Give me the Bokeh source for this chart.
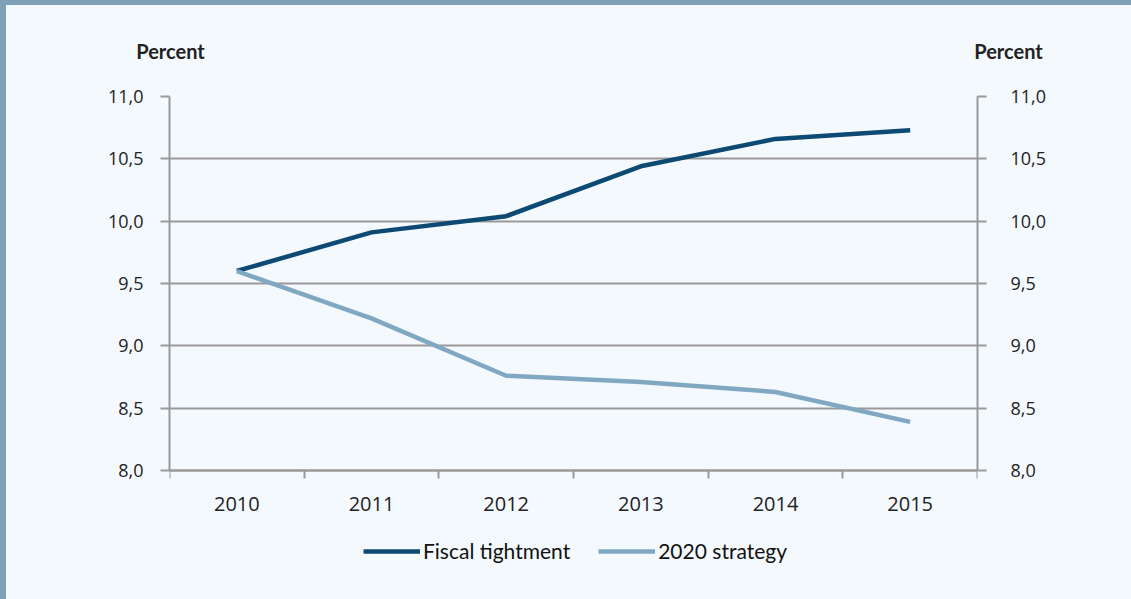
from bokeh.plotting import figure
from bokeh.models import (FixedTicker, LinearAxis, Range1d, CustomJSTickFormatter,
                          Legend, LegendItem)
from bokeh.core.properties import value
from bokeh.layouts import column
from bokeh.embed import file_html
from bokeh.resources import INLINE

years = [2010, 2011, 2012, 2013, 2014, 2015]
fiscal_tightment = [9.6, 9.91, 10.04, 10.44, 10.66, 10.73]
strategy_2020 = [9.6, 9.22, 8.76, 8.71, 8.63, 8.39]
y_ticks = [8.0, 8.5, 9.0, 9.5, 10.0, 10.5, 11.0]
series_names = ["Fiscal tightment", "2020 strategy"]
unit_labels = ["Percent", "Percent"]

BG = "#f4f9fe"
BORDER = "#7ea1b8"
DARK = "#0d4a73"
LIGHT = "#80a8c2"
GRID = "#999999"
TXT = "#222222"
FONT = "Open Sans"

W = 1125
HEADER_H = 80
PLOT_PX = 374                      # pixel height of the value area (8.0 .. 11.0)
EXTRA_PX = 110                     # room below the value area for year labels and legend
px_per_unit = PLOT_PX / (y_ticks[-1] - y_ticks[0])
y_start = y_ticks[0] - EXTRA_PX / px_per_unit

# header with the unit labels above the two value axes
hdr = figure(width=W, height=HEADER_H, x_range=Range1d(0, W), y_range=Range1d(0, HEADER_H),
             output_backend="svg", toolbar_location=None,
             background_fill_color=BG, border_fill_color=BG, outline_line_color=None,
             min_border=0, x_axis_location=None, y_axis_location=None)
hdr.frame_align = False
hdr.xgrid.visible = False
hdr.ygrid.visible = False
hdr.text(x=[164, 1002], y=[35, 35], text=unit_labels,
         text_align="center", text_baseline="middle",
         text_font=value("Lato"), text_font_style="bold", text_font_size="20px",
         text_color=TXT)

p = figure(frame_width=808, frame_height=PLOT_PX + EXTRA_PX,
           x_range=Range1d(years[0] - 0.5, years[-1] + 0.5),
           y_range=Range1d(y_start, y_ticks[-1]),
           output_backend="svg", toolbar_location=None,
           background_fill_color=BG, border_fill_color=BG,
           min_border_left=163, min_border_right=154,
           min_border_top=11, min_border_bottom=0,
           outline_line_color=None, y_axis_location=None, x_axis_location=None)
p.frame_align = False

fmt = CustomJSTickFormatter(code="return tick.toFixed(1).replace('.', ',');")

def style_y(ax, standoff):
    ax.ticker = FixedTicker(ticks=y_ticks)
    ax.bounds = (y_ticks[0], y_ticks[-1])
    ax.formatter = fmt
    ax.axis_line_color = GRID
    ax.axis_line_width = 2
    ax.major_tick_line_color = GRID
    ax.major_tick_line_width = 2
    ax.major_tick_out = 9
    ax.major_tick_in = 0
    ax.minor_tick_line_color = None
    ax.major_label_text_font = FONT
    ax.major_label_text_font_size = "18px"
    ax.major_label_text_color = TXT
    ax.major_label_standoff = standoff

yl = LinearAxis()
style_y(yl, 17)
p.add_layout(yl, "left")
yr = LinearAxis()
style_y(yr, 24)
p.add_layout(yr, "right")

xa = LinearAxis(ticker=FixedTicker(ticks=years,
                                   minor_ticks=[y - 0.5 for y in years] + [years[-1] + 0.5]),
                fixed_location=y_ticks[0])
xa.formatter = CustomJSTickFormatter(code="return String(tick);")
xa.axis_line_color = GRID
xa.axis_line_width = 2
xa.major_tick_line_color = None
xa.major_tick_out = 8
xa.minor_tick_line_color = GRID
xa.minor_tick_line_width = 2
xa.minor_tick_out = 8
xa.minor_tick_in = 0
xa.major_label_text_font = FONT
xa.major_label_text_font_size = "20px"
xa.major_label_text_color = TXT
xa.major_label_standoff = 18
p.add_layout(xa, "below")

p.ygrid.ticker = FixedTicker(ticks=y_ticks)
p.ygrid.grid_line_color = GRID
p.ygrid.grid_line_width = 2
p.xgrid.grid_line_color = None

r1 = p.line(years, fiscal_tightment, line_color=DARK, line_width=4.5)
r2 = p.line(years, strategy_2020, line_color=LIGHT, line_width=4.5)

legend = Legend(items=[LegendItem(label=series_names[0], renderers=[r1]),
                       LegendItem(label=series_names[1], renderers=[r2])],
                orientation="horizontal", location=(194, 17),
                background_fill_alpha=0, border_line_color=None,
                glyph_width=57, glyph_height=24, label_standoff=3, spacing=28,
                label_text_font="Lato", label_text_font_size="21px",
                label_text_color="#111111", margin=0, padding=0)
p.add_layout(legend)

layout = column(hdr, p, styles={"border-top": "5px solid " + BORDER,
                                "border-left": "6px solid " + BORDER,
                                "background-color": BG,
                                "padding-bottom": "60px"})
open("out.html", "w").write(file_html(layout, INLINE))
